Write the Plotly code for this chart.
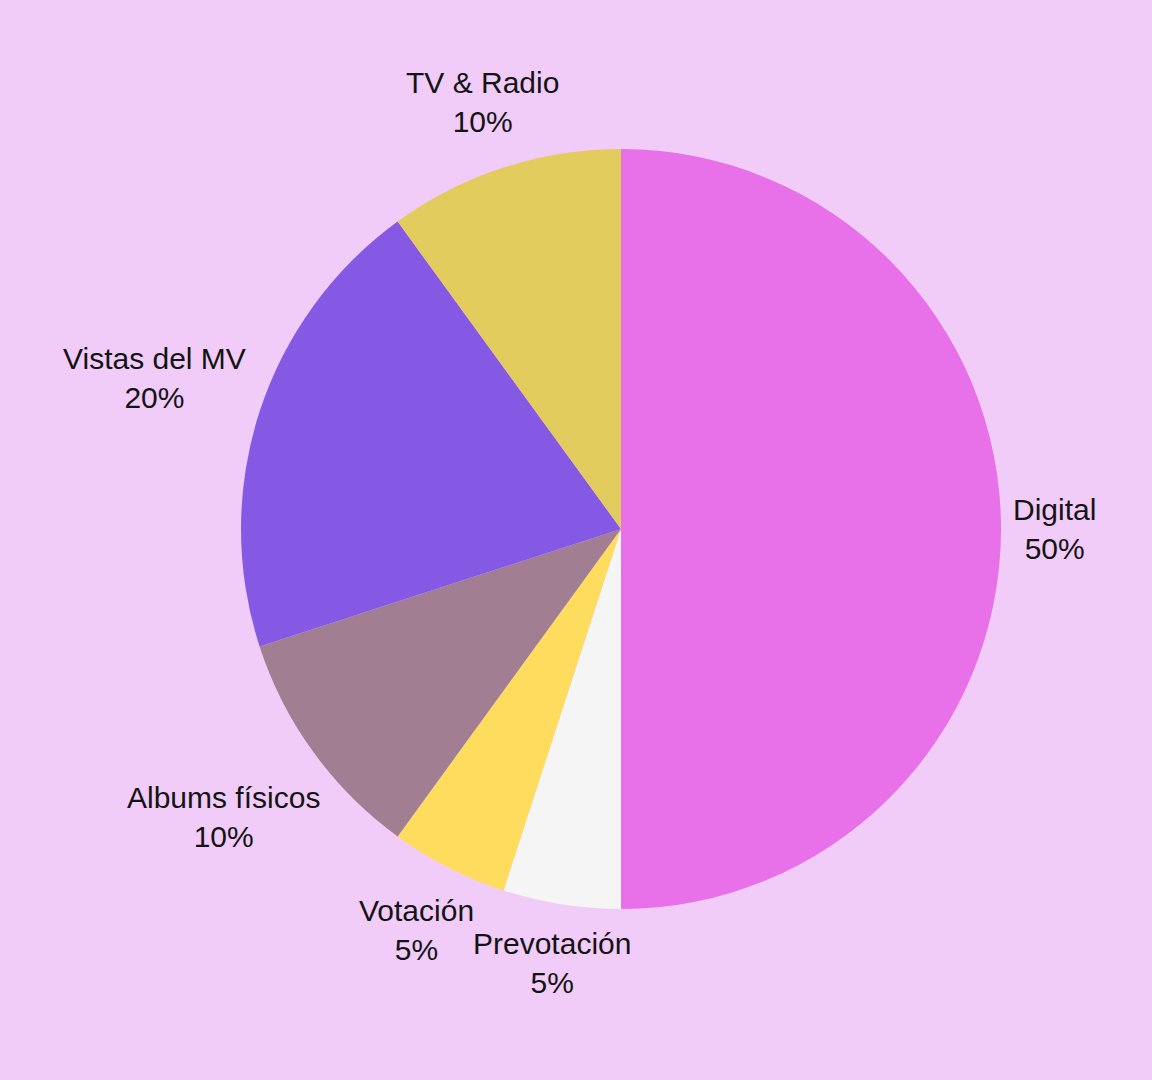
import math
import plotly.graph_objects as go

labels = ["Digital", "Prevotación", "Votación", "Albums físicos", "Vistas del MV", "TV & Radio"]
values = [50, 5, 5, 10, 20, 10]
colors = ["#E870E9", "#F5F5F5", "#FEDD5E", "#A27E93", "#8559E3", "#E3CC5E"]

W, H = 1152, 1080
CX, CY, R = 621, 529, 380   # pie centre / radius in pixels
FS = 30
GAP = 12

# approximate Arial/Liberation Sans advance widths (per 1000 em)
CW = {'a': 556, 'b': 556, 'c': 500, 'd': 556, 'e': 556, 'f': 278, 'g': 556, 'h': 556,
      'i': 222, 'l': 222, 'm': 833, 'n': 556, 'o': 556, 'p': 556, 'r': 333, 's': 500,
      't': 278, 'u': 556, 'v': 500, 'í': 278, 'ó': 556, 'D': 722, 'P': 667, 'R': 722,
      'T': 611, 'V': 667, 'A': 667, 'M': 833, ' ': 278, '&': 667, '%': 889}


def text_w(s):
    return sum(CW.get(ch, 556) for ch in s) * FS / 1000.0


fig = go.Figure(go.Pie(
    labels=labels,
    values=values,
    sort=False,
    direction="clockwise",
    rotation=0,
    marker=dict(colors=colors, line=dict(width=0)),
    textinfo="none",
    hoverinfo="label+percent",
    showlegend=False,
    domain=dict(x=[(CX - R) / W, (CX + R) / W], y=[(H - CY - R) / H, (H - CY + R) / H]),
))

total = sum(values)
cum = 0
annotations = []
for lab, v in zip(labels, values):
    a0 = 90 - 360 * cum / total
    a1 = 90 - 360 * (cum + v) / total
    cum += v
    mid = math.radians((a0 + a1) / 2)
    ux, uy = math.cos(mid), math.sin(mid)
    pct = f"{round(100 * v / total)}%"
    w = max(text_w(lab), text_w(pct))
    h = 70
    ext = abs(ux) * w / 2 + abs(uy) * h / 2
    d = R + GAP + ext
    px = CX + d * ux
    py = CY - d * uy
    annotations.append(dict(
        x=px / W, y=1 - py / H, xref="paper", yref="paper",
        text=f"{lab}<br>{pct}", showarrow=False,
        xanchor="center", yanchor="middle", align="center",
        font=dict(family="Liberation Sans, Arial", size=FS, color="#141414"),
    ))

fig.update_layout(
    width=W, height=H,
    paper_bgcolor="#F1CCF8",
    plot_bgcolor="#F1CCF8",
    margin=dict(l=0, r=0, t=0, b=0),
    annotations=annotations,
)
fig.write_html(
    "out.html",
    config={"displayModeBar": False},
    post_script="document.body.style.margin='0';document.body.style.background='#F1CCF8';",
)
